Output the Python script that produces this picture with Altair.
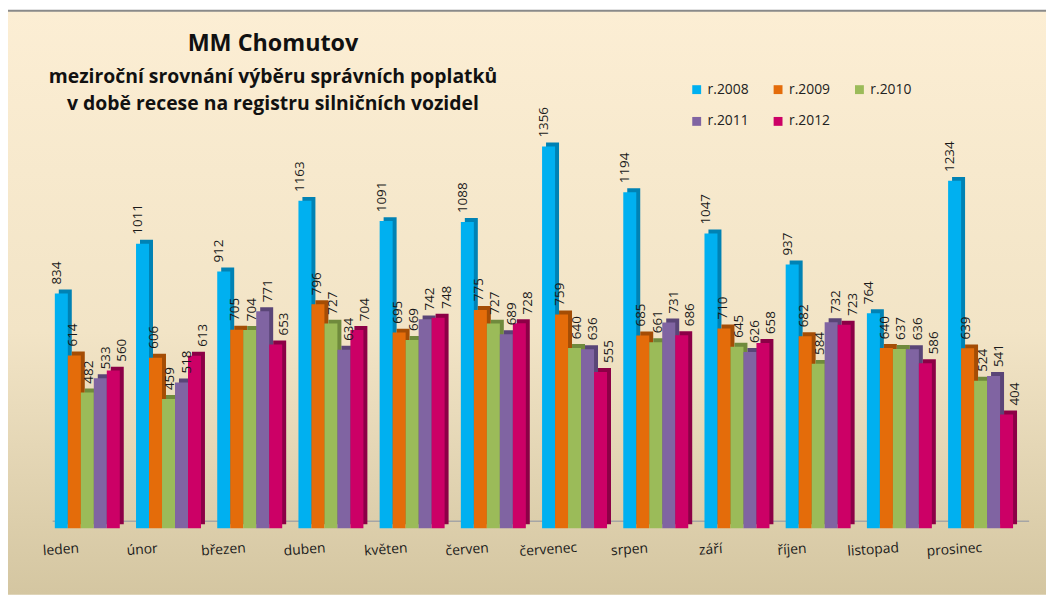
import altair as alt
import pandas as pd

months = ["leden", "únor", "březen", "duben", "květen", "červen",
          "červenec", "srpen", "září", "říjen", "listopad", "prosinec"]
years = ["r.2008", "r.2009", "r.2010", "r.2011", "r.2012"]
v2008 = [834, 1011, 912, 1163, 1091, 1088, 1356, 1194, 1047, 937, 764, 1234]
v2009 = [614, 606, 705, 796, 695, 775, 759, 685, 710, 682, 640, 639]
v2010 = [482, 459, 704, 727, 669, 727, 640, 661, 645, 584, 637, 524]
v2011 = [533, 518, 771, 634, 742, 689, 636, 731, 626, 732, 636, 541]
v2012 = [560, 613, 653, 704, 748, 728, 555, 686, 658, 723, 586, 404]
colors = ["#00B0F0", "#E46C0A", "#9BBB59", "#8064A2", "#CC0066"]
dark_colors = ["#0082B4", "#A44D05", "#6F8A3C", "#5A4577", "#8C0046"]
title_main = "MM Chomutov"
title_lines = ["meziroční srovnání výběru správních poplatků",
               "v době recese na registru silničních vozidel"]

series = [v2008, v2009, v2010, v2011, v2012]
rows = []
for yi, yr in enumerate(years):
    for mi, m in enumerate(months):
        rows.append({"mesic": m, "rok": yr, "hodnota": series[yi][mi]})
df = pd.DataFrame(rows)
df_months = pd.DataFrame({"mesic": months})
one = pd.DataFrame({"a": [0]})

W, H = 982, 400
PL, PT, PR, PB = 39, 122, 25, 67
BAND = W / 12 * 0.8
DEPTH = 4

x_scale = alt.Scale(paddingInner=0.2, paddingOuter=0.1)
x_enc = alt.X("mesic:N", sort=months, title=None, scale=x_scale,
              axis=alt.Axis(labels=False, ticks=False, domainColor="#9a9a9a",
                            domainWidth=2, grid=False))
xo_enc = alt.XOffset("rok:N", sort=years,
                     scale=alt.Scale(range=[0, BAND], paddingInner=0, paddingOuter=0))
xo_side = alt.XOffset("rok:N", sort=years,
                      scale=alt.Scale(range=[DEPTH, BAND + DEPTH], paddingInner=0, paddingOuter=0))
y_enc = alt.Y("hodnota:Q", axis=None, scale=alt.Scale(domain=[0, 1410]))

bg = alt.Chart(one).mark_rect(
    color=alt.LinearGradient(
        gradient="linear",
        stops=[alt.GradientStop(color="#FCEED4", offset=0),
               alt.GradientStop(color="#F2E4C6", offset=0.55),
               alt.GradientStop(color="#D4C6A1", offset=1)],
        x1=0, x2=0, y1=0, y2=1),
).encode(x=alt.value(-PL), x2=alt.value(W + PR), y=alt.value(-PT), y2=alt.value(H + PB))

topline = alt.Chart(one).mark_rule(color="#8a8a8a", strokeWidth=2).encode(
    x=alt.value(-PL), x2=alt.value(W + PR), y=alt.value(-PT + 0.5))

floor_back = alt.Chart(one).mark_rule(color="#a5a5a5", strokeWidth=1.5).encode(
    x=alt.value(6), x2=alt.value(W + 8), y=alt.value(H - 7))

side = alt.Chart(df).mark_bar(yOffset=-DEPTH).encode(
    x=x_enc, xOffset=xo_side, y=y_enc,
    color=alt.Color("rok:N", sort=years, legend=None,
                    scale=alt.Scale(domain=years, range=dark_colors)))

front = alt.Chart(df).mark_bar().encode(
    x=x_enc, xOffset=xo_enc, y=y_enc,
    fill=alt.Fill("rok:N", sort=years, title=None,
                  scale=alt.Scale(domain=years, range=colors),
                  legend=alt.Legend(orient="none", legendX=648, legendY=-49,
                                    direction="horizontal", columns=3,
                                    symbolType="square", symbolSize=80,
                                    symbolStrokeWidth=0,
                                    labelFontSize=14, labelFont="Open Sans",
                                    labelColor="#222", columnPadding=22,
                                    rowPadding=18, symbolOffset=0)))

labels = alt.Chart(df).mark_text(angle=270, align="left", baseline="middle",
                                 dx=9, dy=2, fontSize=13.5, font="Open Sans",
                                 color="#1a1a1a").encode(
    x=x_enc, xOffset=xo_enc, y=y_enc, text=alt.Text("hodnota:Q"))

month_labels = alt.Chart(df_months).mark_text(angle=356, align="center", baseline="top",
                                              dx=-27, fontSize=14, font="Open Sans",
                                              color="#1a1a1a").encode(
    x=alt.X("mesic:N", sort=months, title=None, scale=x_scale),
    y=alt.value(H + 13), text="mesic:N")

t0 = alt.Chart(one).mark_text(text=title_main, fontSize=23.5, fontWeight="bold",
                              font="Open Sans", color="#111", align="center",
                              baseline="middle").encode(x=alt.value(228), y=alt.value(-88))
t1 = alt.Chart(one).mark_text(text=title_lines[0], fontSize=19.5, fontWeight="bold",
                              font="Open Sans", color="#111", align="center",
                              baseline="middle").encode(x=alt.value(228), y=alt.value(-55))
t2 = alt.Chart(one).mark_text(text=title_lines[1], fontSize=19.5, fontWeight="bold",
                              font="Open Sans", color="#111", align="center",
                              baseline="middle").encode(x=alt.value(228), y=alt.value(-27))

chart = alt.layer(bg, topline, floor_back, side, front, labels, month_labels,
                  t0, t1, t2).properties(
    width=W, height=H,
    padding={"left": PL, "top": PT, "right": PR, "bottom": PB},
    autosize=alt.AutoSizeParams(type="none"),
).resolve_scale(color="independent", fill="independent",
                xOffset="independent").configure_view(
    stroke=None).configure(background="#ffffff")

chart.save("out.html", embed_options={"renderer": "svg", "actions": False})
